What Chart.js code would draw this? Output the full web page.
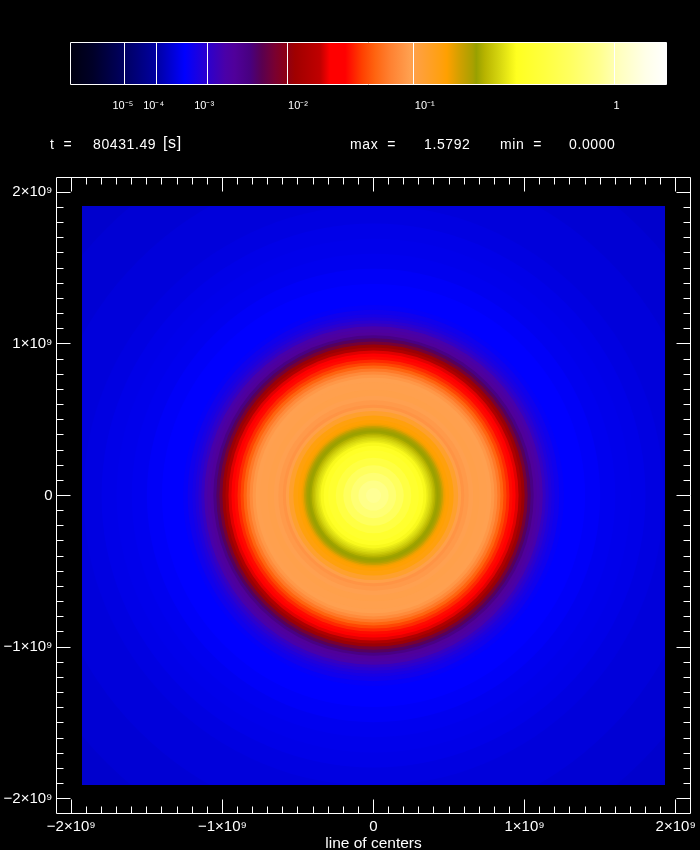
<!DOCTYPE html>
<html>
<head>
<meta charset="utf-8">
<title>line of centers</title>
<script src="https://cdn.jsdelivr.net/npm/chart.js@4"></script>
<style>
    html, body { margin: 0; background: #000; }
    #page { position: relative; width: 700px; height: 850px; overflow: hidden; }
    canvas { position: absolute; left: 0; top: 0; }
    .info { position: absolute; top: 136px; color: #fff; font: 14px "Liberation Sans", sans-serif; letter-spacing: 0.6px; white-space: pre; }
</style>
</head>
<body>
<div id="page">
    <canvas id="mapChart" width="700" height="850"></canvas>
    <canvas id="barChart" width="700" height="120"></canvas>
    <span class="info" style="left:50px">t  =</span>
    <span class="info" style="left:93px">80431.49</span>
    <span class="info" style="left:163px;font-size:16px;top:134px">[s]</span>
    <span class="info" style="left:350px">max  =</span>
    <span class="info" style="left:424px">1.5792</span>
    <span class="info" style="left:500px">min  =</span>
    <span class="info" style="left:569px">0.0000</span>
</div>
<script>
// ===== Data =====

const maxValue = 1.5792;

// colour bar ticks
const barTickValues = [1e-5, 1e-4, 1e-3, 1e-2, 1e-1, 1];
const barTickLabels = ['10\u207B\u2075', '10\u207B\u2074', '10\u207B\u00B3', '10\u207B\u00B2', '10\u207B\u00B9', '1'];

// colour table, level = value^(1/5)
const colorLevels = [0, 0.041, 0.098, 0.157, 0.21, 0.25, 0.284, 0.302, 0.33, 0.352, 0.376, 0.394, 0.413, 0.459,
    0.477, 0.505, 0.536, 0.56, 0.587, 0.624, 0.68, 0.692, 0.716, 0.74, 0.746, 0.762, 0.79, 0.808, 0.82, 0.873,
    0.919, 0.974, 1.011, 1.057, 1.0957];
const colorValues = ['#000010', '#000028', '#000060', '#0000a0', '#0000ff', '#2a00d0', '#4a00a8', '#50009a',
    '#480080', '#5a0050', '#7a0030', '#8a0018', '#a00000', '#c00000', '#ff0000', '#ff0000', '#ff4000', '#ff6410',
    '#ff8030', '#ffa050', '#ffa010', '#ffa000', '#d0a000', '#a8a000', '#98a000', '#b8b400', '#d8d810', '#f0f018',
    '#ffff20', '#ffff40', '#ffff60', '#ffff90', '#ffffc0', '#ffffe8', '#ffffff'];

// azimuthal profile of the map: radius in units of 1e9, level on the colour bar
const ringRadii = [0, 0.05, 0.1, 0.15, 0.2, 0.25, 0.3, 0.33, 0.35, 0.36, 0.37, 0.38, 0.39, 0.4, 0.41, 0.42, 0.43,
    0.44, 0.45, 0.46, 0.47, 0.48, 0.5, 0.53, 0.56, 0.58, 0.6, 0.63, 0.66, 0.7, 0.75, 0.78, 0.8, 0.82, 0.84, 0.86,
    0.88, 0.9, 0.92, 0.94, 0.96, 0.98, 1, 1.02, 1.04, 1.06, 1.08, 1.1, 1.12, 1.14, 1.16, 1.18, 1.2, 1.23, 1.26,
    1.3, 1.35, 1.4, 1.5, 1.6, 1.7, 1.8, 1.92, 2.2, 2.5, 2.8];
const ringLevels = [0.983, 0.978, 0.965, 0.941, 0.915, 0.878, 0.845, 0.83, 0.815, 0.805, 0.797, 0.79, 0.78,
    0.77, 0.76, 0.75, 0.745, 0.742, 0.735, 0.72, 0.705, 0.695, 0.69, 0.682, 0.655, 0.63, 0.61, 0.617, 0.624,
    0.628, 0.626, 0.624, 0.615, 0.6, 0.58, 0.56, 0.54, 0.525, 0.51, 0.49, 0.468, 0.435, 0.408, 0.372, 0.346,
    0.326, 0.303, 0.293, 0.282, 0.262, 0.25, 0.24, 0.232, 0.225, 0.215, 0.21, 0.21, 0.21, 0.206, 0.201, 0.199,
    0.197, 0.193, 0.19, 0.186, 0.182];

const majorTicks = [-2e9, -1e9, 0, 1e9, 2e9];
const majorLabels = ['\u22122\u00D710\u2079', '\u22121\u00D710\u2079', '0', '1\u00D710\u2079', '2\u00D710\u2079'];
const minorStep = 1e8;

const axisLimit = 2.098e9;
const imageHalfX = 1.926e9;
const imageHalfY = 1.91e9;

// ===== Helpers =====

const toLevel = v => Math.pow(v, 0.2);
const maxLevel = toLevel(maxValue);
const FONT = '"Liberation Sans", sans-serif';

function hexToRgb(hex) {
    return [1, 3, 5].map(i => parseInt(hex.slice(i, i + 2), 16));
}

function levelColor(level) {
    let i = 0;
    while (i < colorLevels.length - 2 && level > colorLevels[i + 1]) i++;
    const t = Math.min(1, Math.max(0, (level - colorLevels[i]) / (colorLevels[i + 1] - colorLevels[i])));
    const a = hexToRgb(colorValues[i]);
    const b = hexToRgb(colorValues[i + 1]);
    return `rgb(${a.map((c, k) => Math.round(c + (b[k] - c) * t)).join(',')})`;
}

function allTicks() {
    const ticks = [];
    for (let n = -20; n <= 20; n++) ticks.push({ value: n * minorStep });
    return ticks;
}

function tickLabel(value) {
    const i = majorTicks.indexOf(value);
    return i >= 0 ? majorLabels[i] : '';
}

const crisp = p => Math.floor(p) + 0.5;

// ===== Map chart =====

// The map stops short of the axes, so the rings are cut to the image square
const imageClip = {
    id: 'imageClip',
    beforeDatasetDraw(chart) {
        const { x, y } = chart.scales;
        const left = Math.round(x.getPixelForValue(-imageHalfX));
        const right = Math.round(x.getPixelForValue(imageHalfX));
        const top = Math.round(y.getPixelForValue(imageHalfY));
        const bottom = Math.round(y.getPixelForValue(-imageHalfY));
        chart.ctx.save();
        chart.ctx.beginPath();
        chart.ctx.rect(left, top, right - left, bottom - top);
        chart.ctx.clip();
    },
    afterDatasetDraw(chart) {
        chart.ctx.restore();
    }
};

// Box with inward ticks on all four sides
const tickFrame = {
    id: 'tickFrame',
    afterDraw(chart) {
        const { ctx, chartArea: a, scales } = chart;
        const len = v => (majorTicks.includes(v) ? 14 : 7);
        ctx.save();
        ctx.strokeStyle = '#fff';
        ctx.lineWidth = 1;
        ctx.beginPath();
        scales.x.ticks.forEach(t => {
            const px = crisp(scales.x.getPixelForValue(t.value));
            ctx.moveTo(px, a.top);
            ctx.lineTo(px, a.top + len(t.value));
            ctx.moveTo(px, a.bottom);
            ctx.lineTo(px, a.bottom - len(t.value));
        });
        scales.y.ticks.forEach(t => {
            const py = crisp(scales.y.getPixelForValue(t.value));
            ctx.moveTo(a.left, py);
            ctx.lineTo(a.left + len(t.value), py);
            ctx.moveTo(a.right, py);
            ctx.lineTo(a.right - len(t.value), py);
        });
        ctx.rect(a.left, a.top, a.right - a.left, a.bottom - a.top);
        ctx.stroke();
        ctx.restore();
    }
};

const outerFirst = ringRadii.map((r, i) => i).reverse();

new Chart(document.getElementById('mapChart'), {
    type: 'scatter',
    data: {
        datasets: [{
            data: outerFirst.map(() => ({ x: 0, y: 0 })),
            pointRadius: ctx => {
                const s = ctx.chart.scales.x;
                const r = s.getPixelForValue(ringRadii[outerFirst[ctx.dataIndex]] * 1e9) - s.getPixelForValue(0);
                return isFinite(r) ? r : 0;
            },
            pointBackgroundColor: ctx => levelColor(ringLevels[outerFirst[ctx.dataIndex]]),
            pointBorderWidth: 0,
            clip: false
        }]
    },
    options: {
        responsive: false,
        animation: false,
        events: [],
        layout: { padding: { top: 177.5, right: 7.5, left: 0, bottom: 0 } },
        plugins: { legend: { display: false }, tooltip: { enabled: false } },
        scales: {
            x: {
                type: 'linear',
                min: -axisLimit,
                max: axisLimit,
                afterBuildTicks: s => { s.ticks = allTicks(); },
                afterFit: s => { s.height = 36.5; },
                grid: { display: false, drawTicks: false },
                border: { display: false },
                ticks: {
                    autoSkip: false,
                    maxRotation: 0,
                    padding: 4,
                    color: '#fff',
                    font: { family: FONT, size: 15 },
                    callback: tickLabel
                },
                title: {
                    display: true,
                    text: 'line of centers',
                    color: '#fff',
                    font: { family: FONT, size: 15.5 },
                    padding: { top: 0, bottom: -3 }
                }
            },
            y: {
                type: 'linear',
                min: -axisLimit,
                max: axisLimit,
                afterBuildTicks: s => { s.ticks = allTicks(); },
                afterFit: s => { s.width = 56.5; },
                grid: { display: false, drawTicks: false },
                border: { display: false },
                ticks: {
                    autoSkip: false,
                    padding: 4,
                    color: '#fff',
                    font: { family: FONT, size: 15 },
                    callback: tickLabel
                }
            }
        }
    },
    plugins: [imageClip, tickFrame]
});

// ===== Colour bar =====

// The bar's labels sit a little off their tick lines in the original
const barLabelShift = [-2, -3, -3, 11, 11, 2];

const barDecor = {
    id: 'barDecor',
    afterDraw(chart) {
        const { ctx, chartArea: a, scales } = chart;
        ctx.save();
        ctx.strokeStyle = '#fff';
        ctx.lineWidth = 1;
        ctx.beginPath();
        barTickValues.forEach(v => {
            const px = crisp(scales.x.getPixelForValue(toLevel(v)));
            ctx.moveTo(px, a.top);
            ctx.lineTo(px, a.bottom);
        });
        ctx.rect(a.left, a.top, a.right - a.left, a.bottom - a.top);
        ctx.stroke();
        ctx.fillStyle = '#fff';
        ctx.font = `11px ${FONT}`;
        ctx.textAlign = 'center';
        ctx.textBaseline = 'middle';
        barTickLabels.forEach((label, i) => {
            const px = scales.x.getPixelForValue(toLevel(barTickValues[i]));
            ctx.fillText(label, px + barLabelShift[i], 106);
        });
        ctx.restore();
    }
};

function barGradient(ctx) {
    const area = ctx.chart.chartArea;
    if (!area) return '#000';
    const g = ctx.chart.ctx.createLinearGradient(area.left, 0, area.right, 0);
    colorLevels.forEach((l, i) => g.addColorStop(Math.min(1, l / maxLevel), colorValues[i]));
    return g;
}

new Chart(document.getElementById('barChart'), {
    type: 'bar',
    data: {
        labels: ['level'],
        datasets: [{
            data: [[0, maxLevel]],
            backgroundColor: barGradient,
            borderSkipped: false,
            barPercentage: 1,
            categoryPercentage: 1
        }]
    },
    options: {
        indexAxis: 'y',
        responsive: false,
        animation: false,
        events: [],
        layout: { padding: { left: 70.5, right: 33.5, top: 42.5, bottom: 35.5 } },
        plugins: { legend: { display: false }, tooltip: { enabled: false } },
        scales: {
            x: { type: 'linear', min: 0, max: maxLevel, display: false },
            y: { display: false }
        }
    },
    plugins: [barDecor]
});
</script>
</body>
</html>
